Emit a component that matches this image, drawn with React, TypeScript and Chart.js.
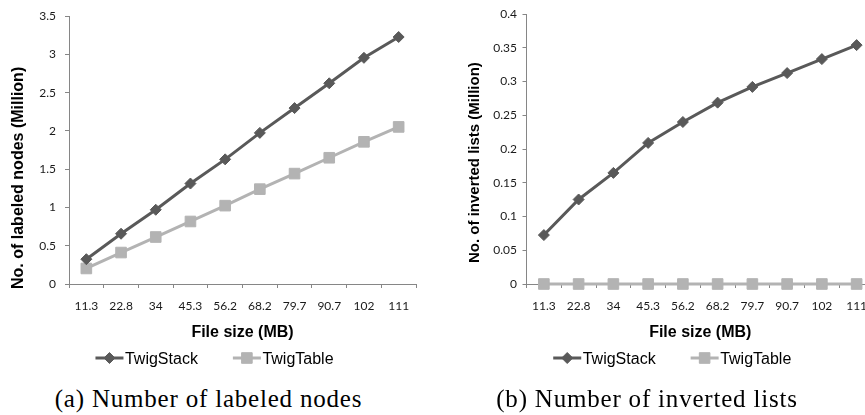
import React, { useEffect, useRef } from 'react';
import { Chart, registerables } from 'chart.js';
import { drawPoint } from 'chart.js/helpers';

Chart.register(...registerables);

// ---- data ----
const fileSizes = ['11.3', '22.8', '34', '45.3', '56.2', '68.2', '79.7', '90.7', '102', '111'];
const seriesNames = ['TwigStack', 'TwigTable'];
const labeledNodesTwigStack = [0.324, 0.657, 0.97, 1.313, 1.629, 1.975, 2.299, 2.623, 2.956, 3.228];
const labeledNodesTwigTable = [0.203, 0.411, 0.614, 0.817, 1.024, 1.24, 1.443, 1.65, 1.858, 2.053];
const invertedListsTwigStack = [0.0725, 0.1252, 0.1646, 0.209, 0.24, 0.2687, 0.292, 0.3125, 0.3332, 0.3539];
const invertedListsTwigTable = [0, 0, 0, 0, 0, 0, 0, 0, 0, 0];
const nodesAxisRange = [0, 3.5, 0.5];
const listsAxisRange = [0, 0.4, 0.05];

const DARK = '#595959';
const LIGHT = '#b3b3b3';
const AXIS = '#868686';
const TICK_TEXT = '#1a1a1a';

const decorPlugin = {
  id: 'decor',
  afterDraw(chart: any, _args: any, opts: any) {
    const { ctx, chartArea } = chart;
    // rotated y title
    if (opts.yTitle) {
      const t = opts.yTitle;
      ctx.save();
      ctx.translate(chartArea.left - t.dx, chartArea.bottom + t.below);
      ctx.rotate(-Math.PI / 2);
      ctx.textAlign = 'left';
      ctx.textBaseline = 'middle';
      ctx.fillStyle = '#000';
      ctx.font = `bold ${t.size}px "Liberation Sans", Arial, sans-serif`;
      ctx.fillText(t.text, 0, 0);
      ctx.restore();
    }
    // legend: line + marker + text
    if (opts.legend) {
      const L = opts.legend;
      ctx.save();
      ctx.font = `${L.size}px "Liberation Sans", Arial, sans-serif`;
      const items = chart.data.datasets.map((ds: any) => ({ ds, w: ctx.measureText(ds.label).width }));
      let total = 0;
      items.forEach((it: any, i: number) => {
        total += L.lineLen + L.textGap + it.w + (i > 0 ? L.itemGap : 0);
      });
      let x = (chartArea.left + chartArea.right) / 2 + L.offsetX - total / 2;
      items.forEach((it: any) => {
        const ds = it.ds;
        ctx.strokeStyle = ds.borderColor;
        ctx.lineWidth = ds.borderWidth;
        ctx.beginPath();
        ctx.moveTo(x, L.lineY);
        ctx.lineTo(x + L.lineLen, L.lineY);
        ctx.stroke();
        ctx.fillStyle = ds.pointBackgroundColor;
        ctx.strokeStyle = ds.pointBorderColor;
        ctx.lineWidth = ds.pointBorderWidth;
        drawPoint(ctx, { pointStyle: ds.pointStyle, rotation: 0, radius: ds.pointRadius, borderWidth: ds.pointBorderWidth }, x + L.lineLen / 2, L.lineY);
        ctx.fillStyle = '#000';
        ctx.textAlign = 'left';
        ctx.textBaseline = 'middle';
        ctx.fillText(ds.label, x + L.lineLen + L.textGap, L.textY);
        x += L.lineLen + L.textGap + it.w + L.itemGap;
      });
      ctx.restore();
    }
  },
};

function makeDataset(label: string, data: number[], color: string, style: string, radius: number) {
  return {
    label,
    data,
    borderColor: color,
    backgroundColor: color,
    borderWidth: 3,
    pointStyle: style,
    pointRadius: radius,
    pointBorderWidth: 1,
    pointBackgroundColor: color,
    pointBorderColor: color,
    tension: 0,
    clip: false,
  };
}

function buildConfig(a: number[], b: number[], range: number[], yTitle: any, yWidth: number, labelPad: number) {
  return {
    type: 'line',
    data: {
      labels: fileSizes,
      datasets: [
        makeDataset(seriesNames[0], a, DARK, 'rectRot', 5.5),
        makeDataset(seriesNames[1], b, LIGHT, 'rect', 7.5),
      ],
    },
    plugins: [decorPlugin],
    options: {
      animation: false,
      responsive: false,
      maintainAspectRatio: false,
      events: [],
      layout: { padding: { left: 0, right: 16, top: 14, bottom: 28 } },
      plugins: {
        legend: { display: false },
        tooltip: { enabled: false },
        title: { display: false },
        decor: {
          yTitle,
          legend: { size: 16, lineLen: 28, textGap: 1.5, itemGap: 35, offsetX: -28, lineY: 358, textY: 360 },
        },
      },
      scales: {
        x: {
          type: 'category',
          offset: true,
          grid: { display: true, offset: true, drawOnChartArea: false, drawTicks: true, tickLength: 4, color: AXIS, lineWidth: 1 },
          border: { display: true, color: AXIS, width: 1 },
          ticks: { color: TICK_TEXT, font: { family: 'Lato', size: 12 }, padding: 11, maxRotation: 0, autoSkip: false },
          title: {
            display: true,
            text: 'File size (MB)',
            color: '#000',
            font: { family: '"Liberation Sans", Arial, sans-serif', size: 16, weight: 'bold' },
            padding: { top: 0, bottom: 2 },
          },
          afterFit: (s: any) => { s.height = 60; },
        },
        y: {
          min: range[0],
          max: range[1],
          grid: { display: true, drawOnChartArea: false, drawTicks: true, tickLength: 4, color: AXIS, lineWidth: 1 },
          border: { display: true, color: AXIS, width: 1 },
          ticks: {
            stepSize: range[2],
            color: TICK_TEXT,
            font: { family: 'Lato', size: 12 },
            padding: labelPad,
            callback: (v: number) => String(Math.round(v * 1000) / 1000),
          },
          afterFit: (s: any) => { s.width = yWidth; },
        },
      },
    },
  };
}

function LineChart({ config, width, height }: { config: any; width: number; height: number }) {
  const ref = useRef<HTMLCanvasElement | null>(null);
  useEffect(() => {
    if (!ref.current) return;
    const chart = new Chart(ref.current, config);
    return () => chart.destroy();
  }, [config]);
  return <canvas ref={ref} width={width} height={height} style={{ width, height, display: 'block' }} />;
}

const leftConfig = buildConfig(
  labeledNodesTwigStack,
  labeledNodesTwigTable,
  nodesAxisRange,
  { text: 'No. of labeled nodes (Million)', size: 16, dx: 50.5, below: 5 },
  69,
  9,
);
const rightConfig = buildConfig(
  invertedListsTwigStack,
  invertedListsTwigTable,
  listsAxisRange,
  { text: 'No. of inverted lists (Million)', size: 15, dx: 51.5, below: -21 },
  96.5,
  5.5,
);

const captionStyle: React.CSSProperties = {
  position: 'absolute',
  top: 386,
  fontFamily: '"Liberation Serif", "Times New Roman", serif',
  fontSize: 25,
  lineHeight: '25px',
  letterSpacing: '0.8px',
  color: '#000',
  textAlign: 'center',
  whiteSpace: 'nowrap',
};

export default function App() {
  return (
    <div style={{ position: 'fixed', left: 0, top: 0, width: 865, height: 415, overflow: 'hidden', background: '#fff' }}>
      <div style={{ position: 'absolute', left: 0, top: 0 }}>
        <LineChart config={leftConfig} width={432} height={372} />
      </div>
      <div style={{ position: 'absolute', left: 430, top: 0 }}>
        <LineChart config={rightConfig} width={460} height={372} />
      </div>
      <div style={{ ...captionStyle, left: 0, width: 417 }}>(a) Number of labeled nodes</div>
      <div style={{ ...captionStyle, left: 430, width: 434 }}>(b) Number of inverted lists</div>
    </div>
  );
}
